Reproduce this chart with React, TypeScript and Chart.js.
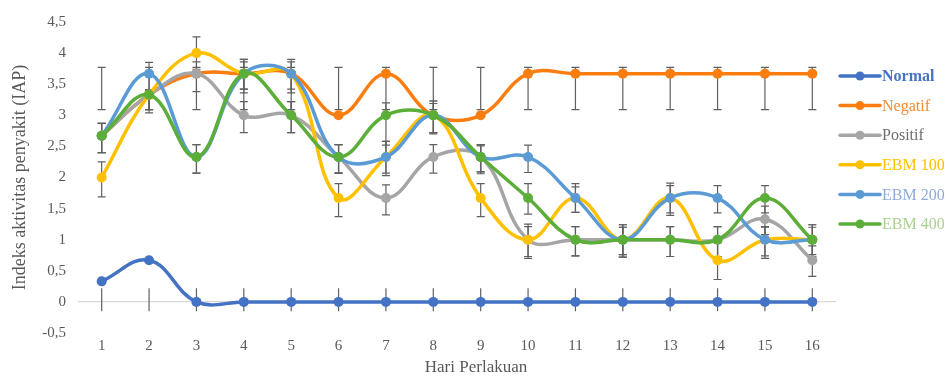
import React, { useEffect, useRef } from "react";
import { Chart, registerables } from "chart.js";

Chart.register(...registerables);

const days = ["1", "2", "3", "4", "5", "6", "7", "8", "9", "10", "11", "12", "13", "14", "15", "16"];

const seriesNames = ["Normal", "Negatif", "Positif", "EBM 100", "EBM 200", "EBM 400"];
const lineColors = ["#4472C4", "#FA7D10", "#A5A5A5", "#FFC000", "#5B9BD5", "#5BAE38"];
const legendTextColors = ["#4472C4", "#F58A2E", "#6E6E6E", "#FFC000", "#8FAADC", "#A9D18E"];

const xTitle = "Hari Perlakuan";
const yTitle = "Indeks aktivitas penyakit (IAP)";

const normal = [0.33, 0.67, 0, 0, 0, 0, 0, 0, 0, 0, 0, 0, 0, 0, 0, 0];
const negatif = [2.67, 3.33, 3.67, 3.67, 3.67, 3, 3.67, 3, 3, 3.67, 3.67, 3.67, 3.67, 3.67, 3.67, 3.67];
const positif = [2.67, 3.33, 3.67, 3, 3, 2.33, 1.67, 2.33, 2.33, 1, 1, 1, 1, 1, 1.33, 0.67];
const ebm100 = [2, 3.33, 4, 3.67, 3.67, 1.67, 2.33, 3, 1.67, 1, 1.67, 1, 1.67, 0.67, 1, 1];
const ebm200 = [2.67, 3.67, 2.33, 3.67, 3.67, 2.33, 2.33, 3, 2.33, 2.33, 1.67, 1, 1.67, 1.67, 1, 1];
const ebm400 = [2.67, 3.33, 2.33, 3.67, 3, 2.33, 3, 3, 2.33, 1.67, 1, 1, 1, 1, 1.67, 1];

// error bar ranges [low, high]
const normalErr: [number, number][] = days.map(() => [-0.15, 0.22]);
const negatifErr: [number, number][] = days.map(() => [3.09, 3.77]);
const positifErr: [number, number][] = [
  [2.4, 2.87], [3.09, 3.41], [3.38, 3.86], [2.72, 3.22], [2.72, 3.22], [2.07, 2.53], [1.4, 1.88], [2.07, 2.53],
  [2.06, 2.51], [0.7, 1.21], [0.74, 1.21], [0.72, 1.2], [0.73, 1.21], [0.73, 1.21], [1.08, 1.54], [0.41, 0.9],
];
const ebm100Err: [number, number][] = [
  [1.69, 2.25], [3.04, 3.35], [3.74, 4.26], [3.36, 3.86], [3.36, 3.86], [1.37, 1.9], [2.03, 2.58], [2.7, 3.19],
  [1.37, 1.9], [0.73, 1.25], [1.44, 1.9], [0.76, 1.24], [1.39, 1.91], [0.36, 0.95], [0.7, 1.2], [0.72, 1.2],
];
const ebm200Err: [number, number][] = [
  [2.4, 2.87], [3.41, 3.85], [2.07, 2.53], [3.42, 3.9], [3.42, 3.9], [2.07, 2.53], [2.07, 2.58], [2.72, 3.23],
  [2.09, 2.53], [2.08, 2.52], [1.44, 1.85], [0.72, 1.2], [1.43, 1.87], [1.43, 1.87], [0.74, 1.21], [0.76, 1.24],
];
const ebm400Err: [number, number][] = [
  [2.4, 2.87], [3.09, 3.41], [2.07, 2.53], [3.42, 3.9], [2.72, 3.22], [2.07, 2.53], [2.52, 3.2], [2.72, 3.23],
  [2.09, 2.53], [1.41, 1.9], [0.74, 1.21], [0.76, 1.24], [0.73, 1.21], [0.73, 1.21], [1.43, 1.87], [0.73, 1.24],
];

const seriesValues = [normal, negatif, positif, ebm100, ebm200, ebm400];
const seriesErrors = [normalErr, negatifErr, positifErr, ebm100Err, ebm200Err, ebm400Err];
const errorCaps = [false, true, true, true, true, true];

const yTicks = [-0.5, 0, 0.5, 1, 1.5, 2, 2.5, 3, 3.5, 4, 4.5];

const FONT = "'Liberation Serif', 'Times New Roman', serif";

const errorBarPlugin = {
  id: "errorBars",
  beforeDatasetsDraw(chart: any) {
    const ctx = chart.ctx;
    const yScale = chart.scales.y;
    ctx.save();
    ctx.strokeStyle = "#606060";
    ctx.lineWidth = 1.2;
    chart.data.datasets.forEach((ds: any, i: number) => {
      const meta = chart.getDatasetMeta(i);
      const errs = seriesErrors[i];
      meta.data.forEach((pt: any, j: number) => {
        const [lo, hi] = errs[j];
        const x = pt.x;
        const yl = yScale.getPixelForValue(lo);
        const yh = yScale.getPixelForValue(hi);
        ctx.beginPath();
        ctx.moveTo(x, yl);
        ctx.lineTo(x, yh);
        if (errorCaps[i]) {
          ctx.moveTo(x - 4, yl);
          ctx.lineTo(x + 4, yl);
          ctx.moveTo(x - 4, yh);
          ctx.lineTo(x + 4, yh);
        }
        ctx.stroke();
      });
    });
    ctx.restore();
  },
};

const legendPlugin = {
  id: "sideLegend",
  afterDraw(chart: any) {
    const ctx = chart.ctx;
    const area = chart.chartArea;
    const x0 = area.right + 4;
    const y0 = area.top + 54;
    const step = 29.6;
    ctx.save();
    seriesNames.forEach((name, i) => {
      const y = y0 + i * step;
      ctx.strokeStyle = lineColors[i];
      ctx.lineWidth = 3.5;
      ctx.lineCap = "round";
      ctx.beginPath();
      ctx.moveTo(x0, y);
      ctx.lineTo(x0 + 40, y);
      ctx.stroke();
      ctx.fillStyle = lineColors[i];
      ctx.beginPath();
      ctx.arc(x0 + 20, y, 4.5, 0, Math.PI * 2);
      ctx.fill();
      ctx.fillStyle = legendTextColors[i];
      ctx.font = (i === 0 ? "bold " : "") + "16px " + FONT;
      ctx.textBaseline = "middle";
      ctx.textAlign = "left";
      ctx.fillText(name, x0 + 42, y + 1);
    });
    // x axis title, centred on the whole chart like the original
    ctx.fillStyle = "#595959";
    ctx.font = "17px " + FONT;
    ctx.textAlign = "center";
    ctx.textBaseline = "middle";
    ctx.fillText(xTitle, chart.width / 2, chart.height - 10);
    ctx.restore();
  },
};

export default function App() {
  const canvasRef = useRef<HTMLCanvasElement | null>(null);

  useEffect(() => {
    if (!canvasRef.current) return;
    const datasets = seriesNames.map((name, i) => ({
      label: name,
      data: seriesValues[i],
      borderColor: lineColors[i],
      backgroundColor: lineColors[i],
      pointBackgroundColor: lineColors[i],
      pointBorderColor: lineColors[i],
      pointRadius: 5,
      pointBorderWidth: 0,
      borderWidth: 3.5,
      tension: 0.4,
      fill: false,
      order: seriesNames.length - i,
    }));
    const chart = new Chart(canvasRef.current, {
      type: "line",
      data: { labels: days, datasets },
      plugins: [errorBarPlugin, legendPlugin],
      options: {
        animation: false,
        responsive: true,
        maintainAspectRatio: false,
        layout: { padding: { top: 22, right: 116, bottom: 0, left: 0 } },
        plugins: {
          legend: { display: false },
          tooltip: { enabled: false },
        },
        scales: {
          x: {
            offset: true,
            grid: { display: false, drawTicks: false },
            border: { display: false },
            ticks: { color: "#595959", font: { family: FONT, size: 15 }, padding: 4 },
            title: { display: false },
            afterFit: (scale: any) => {
              scale.height = 45;
            },
          },
          y: {
            min: -0.5,
            max: 4.5,
            afterBuildTicks: (scale: any) => {
              scale.ticks = yTicks.map((v) => ({ value: v }));
            },
            grid: {
              drawTicks: false,
              color: (c: any) => (c.tick && c.tick.value === 0 ? "#D9D9D9" : "rgba(0,0,0,0)"),
              lineWidth: 1.2,
            },
            border: { display: false },
            ticks: {
              color: "#595959",
              font: { family: FONT, size: 15 },
              padding: 12,
              callback: (v: any) => String(v).replace(".", ","),
            },
            title: {
              display: true,
              text: yTitle,
              color: "#595959",
              font: { family: FONT, size: 18 },
              padding: { top: 9, bottom: 0 },
            },
            afterFit: (scale: any) => {
              scale.width = 78;
            },
          },
        },
      },
    });
    return () => chart.destroy();
  }, []);

  return (
    <div style={{ position: "fixed", left: 0, top: 0, width: 952, height: 378, background: "#fff" }}>
      <canvas ref={canvasRef} />
    </div>
  );
}
